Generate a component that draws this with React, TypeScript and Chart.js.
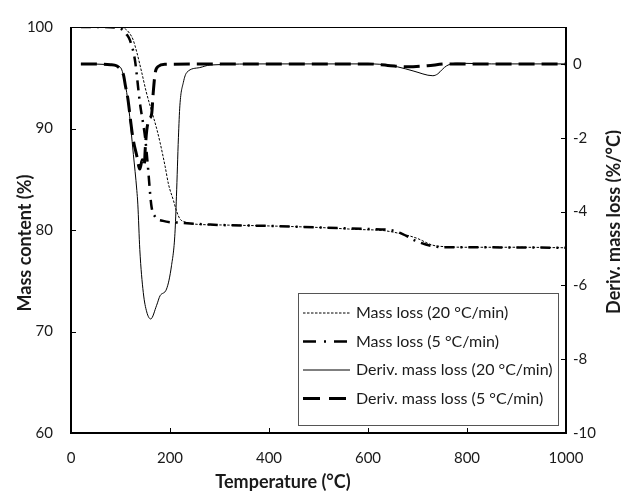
import { useEffect, useRef } from "react";
import { Chart, registerables } from "chart.js";

Chart.register(...registerables);

// ---- Data ----
const tempMass20 = [20, 60, 100, 110, 118, 125, 133, 143, 152, 160, 173, 180, 190, 197, 207, 213, 220, 230, 246, 300, 400, 500, 580, 630, 660, 698, 731, 760, 800, 900, 1000];
const massLoss20 = [100, 100, 99.95, 99.8, 99.4, 98.8, 97.5, 95.5, 93.6, 92.2, 90.0, 88.6, 86.3, 84.5, 82.9, 81.9, 81.1, 80.8, 80.6, 80.5, 80.4, 80.25, 80.05, 79.95, 79.7, 79.2, 78.5, 78.35, 78.3, 78.3, 78.25];

const tempMass5 = [20, 60, 95, 105, 112, 119, 129, 139, 150, 156, 160, 163, 170, 186, 227, 281, 400, 500, 600, 644, 670, 698, 731, 760, 800, 900, 1000];
const massLoss5 = [100, 100, 99.9, 99.7, 99.3, 98.7, 96.8, 92.6, 89.0, 85.9, 83.5, 82.2, 81.3, 80.9, 80.7, 80.53, 80.4, 80.25, 80.1, 80.0, 79.6, 78.9, 78.4, 78.3, 78.3, 78.28, 78.25];

const tempDeriv20 = [20, 80, 95, 102, 109, 116, 126, 133, 135, 139, 146, 153, 161, 173, 180, 193, 203, 210, 213, 217, 220, 227, 234, 260, 281, 400, 600, 624, 660, 691, 731, 741, 750, 759, 779, 850, 1000];
const deriv20 = [0, -0.02, -0.06, -0.14, -0.5, -1.12, -2.45, -3.43, -3.8, -5.03, -6.19, -6.72, -6.91, -6.54, -6.28, -6.1, -5.47, -4.59, -3.6, -2.0, -1.12, -0.5, -0.23, -0.1, -0.03, 0, 0, -0.01, -0.08, -0.19, -0.32, -0.27, -0.15, -0.05, 0.02, 0, 0];

const tempDeriv5 = [20, 80, 92, 100, 106, 110, 115, 120, 125, 133, 139, 144, 148, 150, 153, 158, 163, 166, 170, 176, 190, 300, 600, 640, 680, 720, 760, 1000];
const deriv5 = [0, -0.02, -0.05, -0.15, -0.3, -0.6, -0.95, -1.5, -2.0, -2.5, -2.85, -2.6, -2.75, -2.3, -1.8, -1.5, -1.35, -0.8, -0.25, -0.07, -0.01, 0, 0, -0.04, -0.08, -0.05, 0, 0];

const xTicks = [0, 200, 400, 600, 800, 1000];
const leftTicks = [60, 70, 80, 90, 100];
const rightTicks = [-10, -8, -6, -4, -2, 0];

const seriesLabels = [
  "Mass loss (20 °C/min)",
  "Mass loss (5 °C/min)",
  "Deriv. mass loss (20 °C/min)",
  "Deriv. mass loss (5 °C/min)",
];
const xTitle = "Temperature (°C)";
const yTitle = "Mass content (%)";
const y2Title = "Deriv. mass loss (%/°C)";

const FONT = "Lato";
const TEXT = "#1a1a1a";

const toPoints = (xs: number[], ys: number[]) => xs.map((x, i) => ({ x, y: ys[i] }));

const framePlugin = {
  id: "frame",
  afterDraw(chart: any) {
    const { ctx, chartArea } = chart;
    const { left, right, top, bottom } = chartArea;
    const xs = chart.scales.x;
    const ys = chart.scales.y;
    const ys2 = chart.scales.y2;
    ctx.save();

    // legend box
    const lw = 260, lh = 132;
    const lx = right - 8 - lw, ly = bottom - 8 - lh;
    ctx.fillStyle = "#fff";
    ctx.fillRect(lx, ly, lw, lh);
    ctx.strokeStyle = "#555";
    ctx.lineWidth = 1;
    ctx.strokeRect(lx + 0.5, ly + 0.5, lw, lh);
    chart.data.datasets.forEach((ds: any, i: number) => {
      const cy = ly + 20 + i * 28.5;
      ctx.save();
      ctx.strokeStyle = "#000";
      ctx.lineWidth = ds.borderWidth;
      ctx.setLineDash(ds.legendDash || ds.borderDash || []);
      ctx.beginPath();
      ctx.moveTo(lx + 5, cy);
      ctx.lineTo(lx + 52, cy);
      ctx.stroke();
      ctx.restore();
      ctx.fillStyle = TEXT;
      ctx.font = `16px ${FONT}`;
      ctx.textAlign = "left";
      ctx.textBaseline = "middle";
      ctx.fillText(ds.label, lx + 58, cy);
    });

    // frame
    ctx.strokeStyle = "#000";
    ctx.setLineDash([]);
    ctx.lineWidth = 1;
    ctx.beginPath();
    ctx.moveTo(left, top + 0.5);
    ctx.lineTo(right, top + 0.5);
    ctx.stroke();
    ctx.lineWidth = 2;
    ctx.beginPath();
    ctx.moveTo(left, top);
    ctx.lineTo(left, bottom);
    ctx.lineTo(right, bottom);
    ctx.lineTo(right, top);
    ctx.stroke();

    // inward tick marks
    ctx.lineWidth = 1;
    ctx.beginPath();
    leftTicks.slice(1, -1).forEach((v) => {
      const y = Math.round(ys.getPixelForValue(v)) + 0.5;
      ctx.moveTo(left, y);
      ctx.lineTo(left + 5, y);
    });
    xTicks.slice(1, -1).forEach((v) => {
      const x = Math.round(xs.getPixelForValue(v)) + 0.5;
      ctx.moveTo(x, bottom);
      ctx.lineTo(x, bottom - 5);
    });
    rightTicks.slice(1).forEach((v) => {
      const y = Math.round(ys2.getPixelForValue(v)) + 0.5;
      ctx.moveTo(right, y);
      ctx.lineTo(right - 5, y);
    });
    ctx.stroke();

    // axis titles
    ctx.fillStyle = TEXT;
    ctx.font = `bold 18px ${FONT}`;
    ctx.textAlign = "center";
    ctx.textBaseline = "alphabetic";
    ctx.fillText(xTitle, 283, 488);

    ctx.save();
    ctx.translate(31, 243);
    ctx.rotate(-Math.PI / 2);
    ctx.fillText(yTitle, 0, 0);
    ctx.restore();

    ctx.save();
    ctx.translate(620, 222);
    ctx.rotate(-Math.PI / 2);
    ctx.fillText(y2Title, 0, 0);
    ctx.restore();

    ctx.restore();
  },
};

export default function App() {
  const ref = useRef<HTMLCanvasElement>(null);
  useEffect(() => {
    const tickFont = { family: FONT, size: 15 };
    const chart = new Chart(ref.current as HTMLCanvasElement, {
      type: "line",
      data: {
        datasets: [
          {
            label: seriesLabels[0],
            data: toPoints(tempMass20, massLoss20),
            yAxisID: "y",
            borderColor: "#000",
            borderWidth: 1,
            borderDash: [2.5, 1.5],
          } as any,
          {
            label: seriesLabels[1],
            data: toPoints(tempMass5, massLoss5),
            yAxisID: "y",
            borderColor: "#000",
            borderWidth: 2.5,
            borderDash: [10, 6, 2, 6],
            legendDash: [13, 8, 2, 8],
          },
          {
            label: seriesLabels[2],
            data: toPoints(tempDeriv20, deriv20),
            yAxisID: "y2",
            borderColor: "#000",
            borderWidth: 1,
            borderDash: [],
          },
          {
            label: seriesLabels[3],
            data: toPoints(tempDeriv5, deriv5),
            yAxisID: "y2",
            borderColor: "#000",
            borderWidth: 3,
            borderDash: [16, 7],
            legendDash: [17, 9],
          },
        ],
      },
      options: {
        animation: false,
        responsive: false,
        layout: { padding: { top: 20, left: 0, right: 0, bottom: 0 } },
        elements: {
          point: { radius: 0 },
          line: { cubicInterpolationMode: "monotone", fill: false },
        },
        plugins: { legend: { display: false }, tooltip: { enabled: false } },
        scales: {
          x: {
            type: "linear",
            min: 0,
            max: 1000,
            afterBuildTicks: (s: any) => {
              s.ticks = xTicks.map((value) => ({ value }));
            },
            afterFit: (s: any) => {
              s.height = 58;
            },
            grid: { display: false, drawTicks: false },
            border: { display: false },
            ticks: { padding: 16, font: tickFont, color: TEXT, maxRotation: 0, callback: (v: any) => String(v) },
          },
          y: {
            type: "linear",
            position: "left",
            min: 60,
            max: 100,
            afterBuildTicks: (s: any) => {
              s.ticks = leftTicks.map((value) => ({ value }));
            },
            afterFit: (s: any) => {
              s.width = 71;
            },
            grid: { display: false, drawTicks: false },
            border: { display: false },
            ticks: { padding: 18, font: tickFont, color: TEXT, callback: (v: any) => String(v) },
          },
          y2: {
            type: "linear",
            position: "right",
            min: -10,
            max: 1,
            afterBuildTicks: (s: any) => {
              s.ticks = rightTicks.map((value) => ({ value }));
            },
            afterFit: (s: any) => {
              s.width = 621 - 566;
            },
            grid: { display: false, drawTicks: false },
            border: { display: false },
            ticks: { padding: 7, font: tickFont, color: TEXT, callback: (v: any) => String(v) },
          },
        },
      } as any,
      plugins: [framePlugin],
    });
    return () => chart.destroy();
  }, []);
  return (
    <div style={{ position: "absolute", left: 0, top: 0, width: 621, height: 491, overflow: "hidden", background: "#fff" }}>
      <canvas ref={ref} width={621} height={491} style={{ display: "block" }} />
    </div>
  );
}
